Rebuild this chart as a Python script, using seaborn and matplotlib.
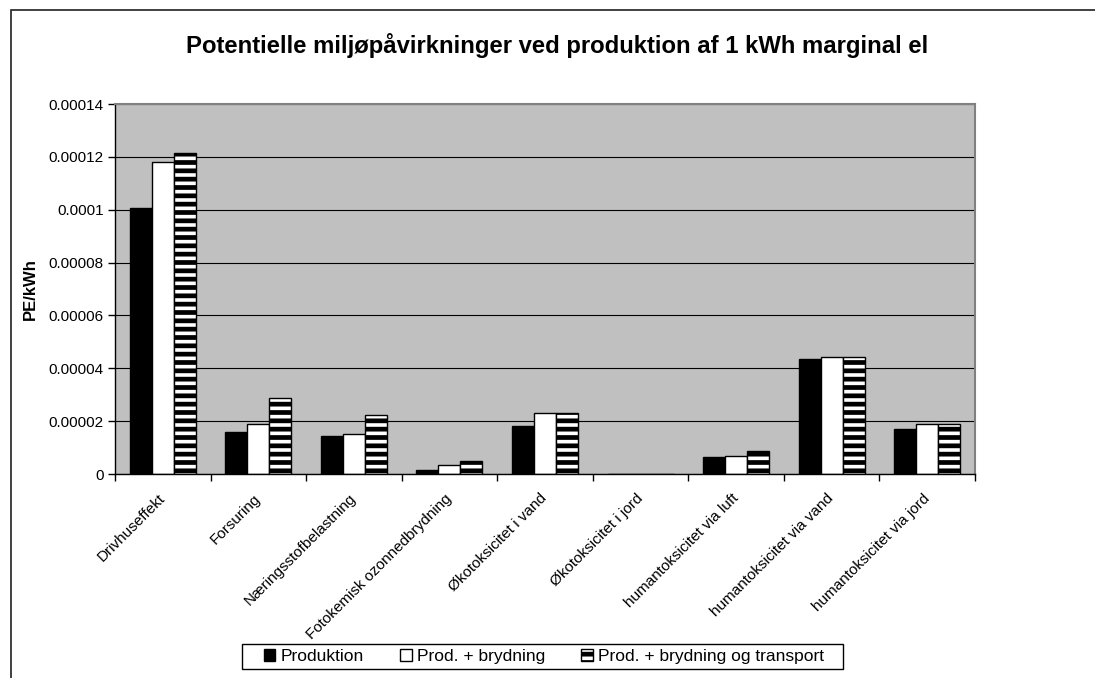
import matplotlib
matplotlib.use("Agg")
import matplotlib.pyplot as plt
import seaborn as sns
import pandas as pd
import numpy as np
from matplotlib.patches import Rectangle, Patch
from matplotlib.ticker import FuncFormatter, MultipleLocator, FixedLocator

categories = ["Drivhuseffekt", "Forsuring", "Næringsstofbelastning",
              "Fotokemisk ozonnedbrydning", "Økotoksicitet i vand",
              "Økotoksicitet i jord", "humantoksicitet via luft",
              "humantoksicitet via vand", "humantoksicitet via jord"]
series_names = ["Produktion", "Prod. + brydning", "Prod. + brydning og transport"]
produktion = [1.008e-4, 1.60e-5, 1.43e-5, 1.4e-6, 1.80e-5, 0.0, 6.4e-6, 4.35e-5, 1.69e-5]
prod_brydning = [1.181e-4, 1.88e-5, 1.52e-5, 3.3e-6, 2.30e-5, 0.0, 6.8e-6, 4.42e-5, 1.88e-5]
prod_brydning_transport = [1.214e-4, 2.89e-5, 2.23e-5, 4.8e-6, 2.30e-5, 0.0, 8.7e-6, 4.42e-5, 1.88e-5]
title = "Potentielle miljøpåvirkninger ved produktion af 1 kWh marginal el"
ylabel = "PE/kWh"

sns.set_theme(style="white")
plt.rcParams['font.family'] = ['Liberation Sans', 'DejaVu Sans']
plt.rcParams['hatch.linewidth'] = 3.4
plt.rcParams['text.color'] = 'black'
plt.rcParams['axes.labelcolor'] = 'black'
plt.rcParams['xtick.color'] = 'black'
plt.rcParams['ytick.color'] = 'black'

df = pd.DataFrame({
    "kategori": categories * 3,
    "serie": [series_names[0]] * 9 + [series_names[1]] * 9 + [series_names[2]] * 9,
    "værdi": produktion + prod_brydning + prod_brydning_transport,
})

fig = plt.figure(figsize=(10.95, 6.78), dpi=100)
ax = fig.add_axes([115 / 1095, 1 - 474 / 678, 860 / 1095, 370 / 678])

palette = {series_names[0]: "black", series_names[1]: "white", series_names[2]: "white"}
sns.barplot(data=df, x="kategori", y="værdi", hue="serie", palette=palette,
            order=categories, hue_order=series_names, width=0.69, gap=0,
            edgecolor="black", linewidth=1.0, saturation=1, ax=ax, legend=False)

for bar in ax.containers[2]:
    bar.set_hatch("--")
    bar.set_edgecolor("black")

ax.set_facecolor("#C0C0C0")
ax.set_ylim(0, 0.00014)
ax.set_xlim(-0.5, len(categories) - 0.5)
ax.yaxis.set_major_locator(MultipleLocator(0.00002))
ax.yaxis.set_major_formatter(FuncFormatter(lambda v, p: format(v, ".5f").rstrip("0").rstrip(".")))
ax.grid(axis="y", color="black", linewidth=0.8)
ax.set_axisbelow(True)

for s in ["top", "right"]:
    ax.spines[s].set_color("#808080")
    ax.spines[s].set_linewidth(1.5)
for s in ["left", "bottom"]:
    ax.spines[s].set_color("black")
    ax.spines[s].set_linewidth(1.0)

ax.tick_params(axis="y", which="major", direction="out", length=5, width=1,
               color="black", labelsize=11, pad=3, left=True, labelcolor="black")
ax.set_xticks(range(len(categories)))
ax.set_xticklabels(categories, rotation=45, ha="right", va="center",
                   rotation_mode="anchor", fontsize=11, color="black")
ax.tick_params(axis="x", which="major", length=0, pad=16)
ax.xaxis.set_minor_locator(FixedLocator(np.arange(-0.5, len(categories), 1.0)))
ax.tick_params(axis="x", which="minor", direction="out", length=5, width=1,
               color="black", bottom=True)

ax.set_xlabel("")
ax.set_ylabel(ylabel, fontsize=12, fontweight="bold", labelpad=8, color="black")

fig.text(557.5 / 1095, 1 - 53 / 678, title, ha="center", va="baseline",
         fontsize=17.2, fontweight="bold", color="black")

handles = [Patch(facecolor="black", edgecolor="black"),
           Patch(facecolor="white", edgecolor="black"),
           Patch(facecolor="white", edgecolor="black", hatch="--")]
leg = fig.legend(handles, series_names, loc="center", bbox_to_anchor=(544 / 1095, 1 - 656.5 / 678),
                 ncol=3, frameon=False, fontsize=12.5, handlelength=0.65, handleheight=0.65,
                 handletextpad=0.3, columnspacing=2.1, borderpad=0.2, borderaxespad=0)
for t in leg.get_texts():
    t.set_color("black")

# legend frame (wider padding as in the reference)
fig.patches.append(Rectangle((242 / 1095, 1 - 669 / 678), 601 / 1095, 25 / 678,
                             transform=fig.transFigure, fill=False,
                             edgecolor="black", linewidth=1.0))

fig.patches.append(Rectangle((11 / 1095, -0.1), 1.2, 1 - 10 / 678 + 0.1,
                             transform=fig.transFigure, fill=False,
                             edgecolor="#202020", linewidth=1.2))

fig.savefig("out.png", dpi=100)
